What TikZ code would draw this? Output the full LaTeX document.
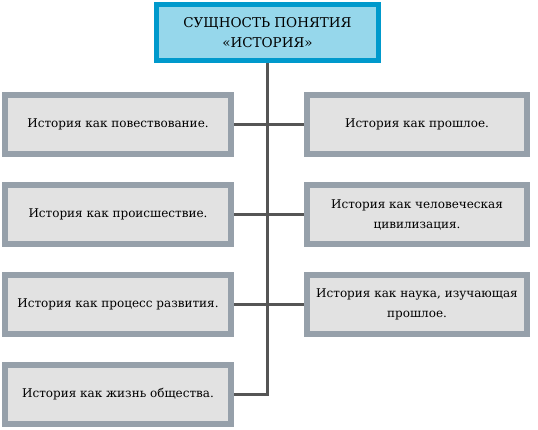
\documentclass[tikz,border=0pt]{standalone}
\usepackage{fontspec}
\setmainfont{DejaVu Serif}
\usetikzlibrary{positioning}
\definecolor{sky}{RGB}{0,153,204}
\definecolor{skyfill}{RGB}{150,215,235}
\definecolor{slate}{RGB}{150,160,170}
\definecolor{fog}{RGB}{226,226,226}
\definecolor{ink}{RGB}{85,85,85}
\tikzset{
  head/.style={draw=sky,fill=skyfill,line width=5pt,minimum width=222pt,
    minimum height=56pt,align=center,font=\fontsize{13.5}{20}\selectfont},
  item/.style={draw=slate,fill=fog,line width=6pt,minimum width=#1,
    minimum height=59pt,align=center,inner sep=2pt,font=\fontsize{12}{20}\selectfont},
  item/.default=226pt,
  link/.style={draw=ink,line width=3pt},
}
\newcommand{\comma}{,}

\begin{document}
\begin{tikzpicture}[x=1pt,y=-1pt]
  \useasboundingbox (0,0) rectangle (538,430);
  \node[head] (top) at (267.5,32.5) {СУЩНОСТЬ ПОНЯТИЯ\\«ИСТОРИЯ»};
  \foreach \t [count=\i] in {
    История как повествование.,
    История как происшествие.,
    История как процесс развития.,
    История как жизнь общества.}
  {
    \node[item] (l\i) at (118,34.5+\i*90) {\t};
  }
  \foreach \t [count=\i] in {
    История как прошлое.,
    История как человеческая\\цивилизация.,
    История как наука\comma{} изучающая\\прошлое.}
  {
    \node[item=220pt] (r\i) at (417,34.5+\i*90) {\t};
  }
  \foreach \i in {1,2,3} \draw[link] (l\i) -- (r\i);
  \draw[link] (top) |- (l4);
\end{tikzpicture}
\end{document}
